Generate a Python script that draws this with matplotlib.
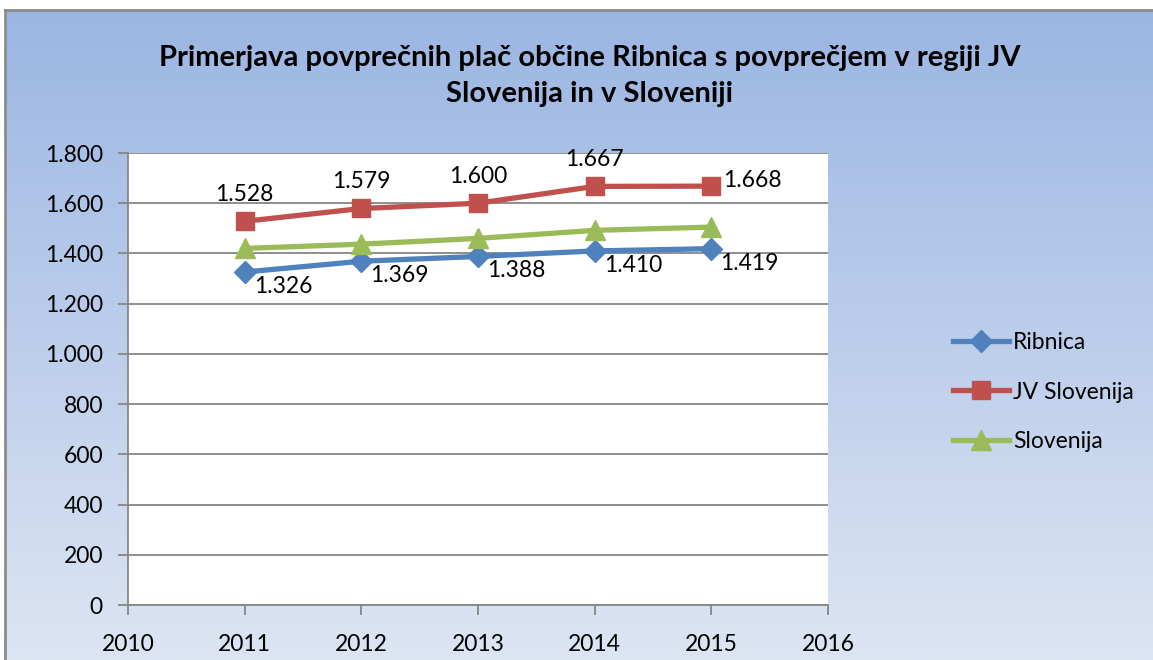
import numpy as np
import matplotlib
matplotlib.use("Agg")
import matplotlib.pyplot as plt

years = [2011, 2012, 2013, 2014, 2015]
ribnica = [1326, 1369, 1388, 1410, 1419]
jv_slovenija = [1528, 1579, 1600, 1667, 1668]
slovenija = [1420, 1437, 1460, 1492, 1505]
series_names = ["Ribnica", "JV Slovenija", "Slovenija"]
yticks = [0, 200, 400, 600, 800, 1000, 1200, 1400, 1600, 1800]
xticks = [2010, 2011, 2012, 2013, 2014, 2015, 2016]
title = "Primerjava povprečnih plač občine Ribnica s povprečjem v regiji JV\nSlovenija in v Sloveniji"

def fmt(v):
    return f"{v:,}".replace(",", ".")

plt.rcParams['font.family'] = ['Lato', 'DejaVu Sans']
FS = 16.5
W, H = 1153, 660
fig = plt.figure(figsize=(W / 100, H / 100), dpi=100)
fig.patch.set_facecolor("white")

# background gradient chart area
bg = fig.add_axes([5 / W, 0, 1 - 5 / W, 1 - 10 / H])
top = np.array([0x9B, 0xB6, 0xE3]) / 255
bot = np.array([0xDD, 0xE5, 0xF3]) / 255
t = np.linspace(0, 1, 256)[:, None]
grad = top[None, :] * (1 - t) + bot[None, :] * t
bg.imshow(grad[:, None, :], aspect="auto", extent=[0, 1, 0, 1])
bg.set_xlim(0, 1)
bg.set_ylim(0, 1)
bg.set_xticks([])
bg.set_yticks([])
for s in ["right", "bottom"]:
    bg.spines[s].set_visible(False)
for s in ["left", "top"]:
    bg.spines[s].set_color("#8C8C8C")
    bg.spines[s].set_linewidth(2)

ax = fig.add_axes([128 / W, 1 - 605 / H, (828 - 128) / W, (605 - 153) / H])
ax.set_facecolor("white")
ax.set_xlim(2010, 2016)
ax.set_ylim(0, 1800)
ax.set_yticks(yticks)
ax.set_yticklabels([fmt(v) for v in yticks], fontsize=FS)
ax.set_xticks(xticks)
ax.set_xticklabels([str(x) for x in xticks], fontsize=FS)
ax.grid(axis="y", color="#868686", linewidth=1.3)
ax.set_axisbelow(True)
for s in ["top", "right"]:
    ax.spines[s].set_visible(False)
for s in ["left", "bottom"]:
    ax.spines[s].set_color("#868686")
    ax.spines[s].set_linewidth(1.3)
ax.tick_params(axis="both", color="#868686", width=1.3, length=7, direction="out")
ax.tick_params(axis="x", pad=14)
ax.tick_params(axis="y", pad=11)

blue, red, green = "#4F81BD", "#C0504D", "#9BBB59"
l1, = ax.plot(years, ribnica, color=blue, lw=3.8, marker="D", ms=11, label=series_names[0], clip_on=False)
l2, = ax.plot(years, jv_slovenija, color=red, lw=3.8, marker="s", ms=13, label=series_names[1], clip_on=False)
l3, = ax.plot(years, slovenija, color=green, lw=3.8, marker="^", ms=14, label=series_names[2], clip_on=False)

for x, v in zip(years, ribnica):
    ax.annotate(fmt(v), (x, v), xytext=(9, -4), textcoords="offset pixels",
                ha="left", va="top", fontsize=FS)
for i, (x, v) in enumerate(zip(years, jv_slovenija)):
    if i < len(years) - 1:
        ax.annotate(fmt(v), (x, v), xytext=(0, 16), textcoords="offset pixels",
                    ha="center", va="bottom", fontsize=FS)
    else:
        ax.annotate(fmt(v), (x, v), xytext=(12, 6), textcoords="offset pixels",
                    ha="left", va="center", fontsize=FS)

fig.legend(handles=[l1, l2, l3], loc="center left", bbox_to_anchor=(944 / W, 1 - 392 / H),
           frameon=False, fontsize=FS, handlelength=2.45, handletextpad=0.15,
           labelspacing=1.25, borderaxespad=0)

fig.text(590 / W, 1 - 76 / H, title, ha="center", va="center", fontsize=21,
         fontweight="bold", linespacing=1.45)

fig.savefig("out.png", dpi=100)
